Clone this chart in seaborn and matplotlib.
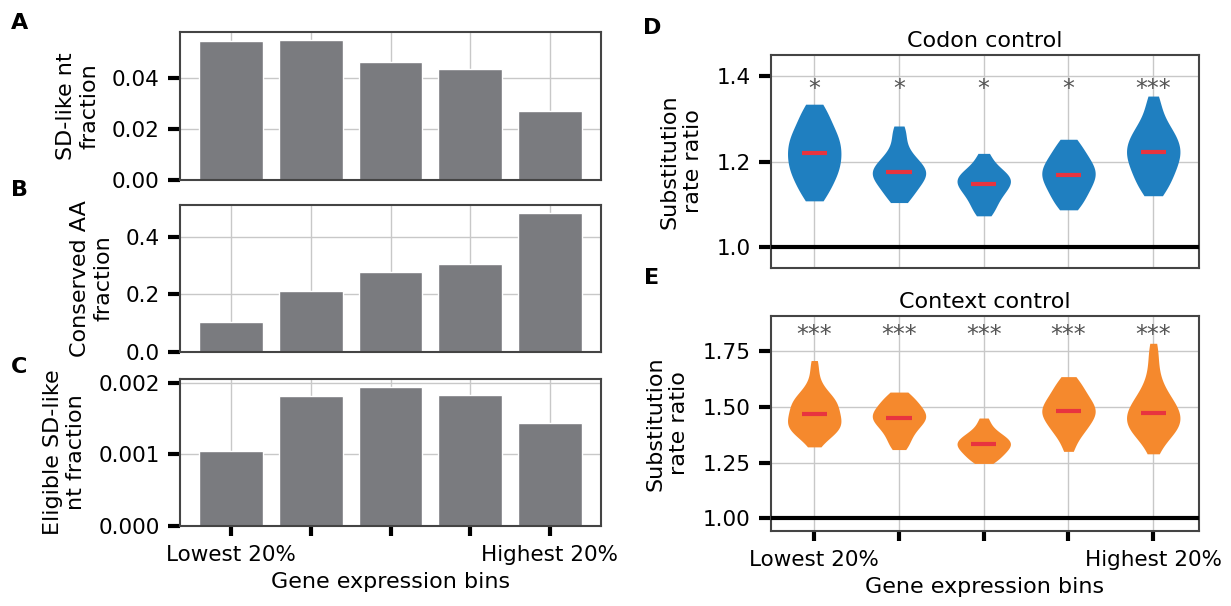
import numpy as np
import pandas as pd
import matplotlib
matplotlib.use("Agg")
import matplotlib.pyplot as plt
import seaborn as sns

# ===== DATA =====
BINS = ["Lowest 20%", "20-40%", "40-60%", "60-80%", "Highest 20%"]
TICK_LABELS = ["Lowest 20%", "", "", "", "Highest 20%"]

sd_like_frac = [0.0546, 0.0549, 0.0463, 0.0435, 0.0271]
conserved_aa_frac = [0.104, 0.212, 0.279, 0.306, 0.483]
eligible_sd_frac = [0.00105, 0.00181, 0.00194, 0.00182, 0.00144]

# substitution rate ratio samples per bin (codon control)
codon_b1 = [1.108, 1.12, 1.132, 1.142, 1.151, 1.159, 1.166, 1.173, 1.180, 1.186,
            1.192, 1.198, 1.204, 1.210, 1.216, 1.222, 1.228, 1.234, 1.240, 1.246,
            1.252, 1.258, 1.265, 1.272, 1.280, 1.289, 1.299, 1.310, 1.322, 1.334]
codon_b2 = [1.104, 1.114, 1.123, 1.131, 1.138, 1.144, 1.150, 1.155, 1.160, 1.164,
            1.168, 1.172, 1.176, 1.180, 1.184, 1.188, 1.193, 1.198, 1.204, 1.211,
            1.220, 1.232, 1.250, 1.267, 1.283]
codon_b3 = [1.073, 1.084, 1.094, 1.103, 1.111, 1.118, 1.124, 1.130, 1.135, 1.140,
            1.144, 1.148, 1.152, 1.156, 1.160, 1.164, 1.168, 1.172, 1.177, 1.183,
            1.191, 1.203, 1.219]
codon_b4 = [1.087, 1.098, 1.108, 1.117, 1.125, 1.132, 1.139, 1.145, 1.151, 1.157,
            1.162, 1.167, 1.172, 1.177, 1.182, 1.187, 1.193, 1.199, 1.205, 1.212,
            1.220, 1.229, 1.240, 1.252]
codon_b5 = [1.120, 1.132, 1.143, 1.153, 1.162, 1.170, 1.178, 1.185, 1.192, 1.199,
            1.205, 1.211, 1.217, 1.222, 1.228, 1.234, 1.240, 1.246, 1.252, 1.259,
            1.266, 1.274, 1.283, 1.294, 1.310, 1.330, 1.353]

# substitution rate ratio samples per bin (context control)
context_b1 = [1.320, 1.343, 1.362, 1.370, 1.378, 1.385, 1.392, 1.398, 1.404, 1.410,
              1.416, 1.422, 1.428, 1.434, 1.440, 1.446, 1.452, 1.459, 1.466, 1.473,
              1.480, 1.487, 1.494, 1.501, 1.508, 1.515, 1.522, 1.529, 1.536, 1.544,
              1.553, 1.564, 1.578, 1.596, 1.625, 1.665, 1.706]
context_b2 = [1.308, 1.325, 1.342, 1.358, 1.372, 1.384, 1.395, 1.405, 1.414, 1.422,
              1.429, 1.436, 1.442, 1.448, 1.454, 1.460, 1.466, 1.472, 1.479, 1.486,
              1.493, 1.501, 1.509, 1.518, 1.528, 1.539, 1.551, 1.565]
context_b3 = [1.246, 1.256, 1.266, 1.275, 1.283, 1.290, 1.297, 1.303, 1.309, 1.315,
              1.320, 1.325, 1.330, 1.335, 1.340, 1.345, 1.350, 1.355, 1.361, 1.367,
              1.374, 1.382, 1.392, 1.405, 1.424, 1.449]
context_b4 = [1.300, 1.332, 1.360, 1.375, 1.388, 1.400, 1.411, 1.421, 1.430, 1.439,
              1.447, 1.455, 1.462, 1.469, 1.476, 1.483, 1.490, 1.497, 1.504, 1.512,
              1.520, 1.529, 1.538, 1.548, 1.559, 1.571, 1.584, 1.598, 1.614, 1.634]
context_b5 = [1.289, 1.320, 1.345, 1.366, 1.376, 1.385, 1.394, 1.402, 1.410, 1.418,
              1.426, 1.434, 1.442, 1.450, 1.458, 1.466, 1.474, 1.482, 1.490, 1.499,
              1.508, 1.518, 1.529, 1.541, 1.555, 1.571, 1.590, 1.615, 1.648, 1.690,
              1.735, 1.783]

codon_stars = ["*", "*", "*", "*", "***"]
context_stars = ["***", "***", "***", "***", "***"]
# ================

BAR_COLOR = "#7a7b7f"
GRID_COLOR = "#c8c8c8"
EDGE_COLOR = "#444444"

sns.set_theme(style="whitegrid", rc={
    "axes.edgecolor": EDGE_COLOR,
    "axes.linewidth": 1.5,
    "grid.color": GRID_COLOR,
    "grid.linewidth": 1.0,
    "xtick.color": "black",
    "ytick.color": "black",
    "text.color": "black",
    "axes.labelcolor": "black",
})
plt.rcParams["font.family"] = ["DejaVu Sans"]

W, H = 1231, 606
fig = plt.figure(figsize=(W / 100, H / 100), dpi=100)


def px_axes(left, top, right, bottom):
    return fig.add_axes([left / W, 1 - bottom / H, (right - left) / W, (bottom - top) / H])


def style_ticks(ax, show_x):
    ax.tick_params(axis="y", which="major", left=True, length=8.5, width=3,
                   labelsize=15.5, pad=6)
    if show_x:
        ax.tick_params(axis="x", which="major", bottom=True, length=7, width=3,
                       labelsize=15.5, pad=7)
        ax.set_xticks(range(len(BINS)))
        ax.set_xticklabels(TICK_LABELS)
    else:
        ax.tick_params(axis="x", bottom=False, labelbottom=False)
    for s in ax.spines.values():
        s.set_color(EDGE_COLOR)
        s.set_linewidth(1.5)


def bar_panel(ax, values, ylim, yticks, yfmt, ylabel, show_x):
    df = pd.DataFrame({"bin": BINS, "value": values})
    sns.barplot(data=df, x="bin", y="value", order=BINS, color=BAR_COLOR,
                saturation=1, width=0.8, ax=ax, zorder=2)
    ax.set_xlim(-0.64, 4.64)
    ax.set_ylim(*ylim)
    ax.set_yticks(yticks)
    ax.set_yticklabels([yfmt.format(t) for t in yticks])
    ax.set_ylabel(ylabel, fontsize=16, labelpad=9)
    ax.set_xlabel("Gene expression bins" if show_x else "", fontsize=16, labelpad=5)
    ax.grid(True, axis="both", color=GRID_COLOR, linewidth=1.0)
    ax.set_axisbelow(True)
    style_ticks(ax, show_x)


def violin_panel(ax, samples, color, ylim, yticks, yfmt, title, stars, star_y, show_x):
    rows = []
    for b, vals in zip(BINS, samples):
        for v in vals:
            rows.append((b, v))
    df = pd.DataFrame(rows, columns=["bin", "ratio"])
    sns.violinplot(data=df, x="bin", y="ratio", order=BINS, color=color,
                   saturation=1, cut=0, inner=None, density_norm="width",
                   bw_adjust=0.8, width=0.63, linewidth=0, ax=ax)
    for i, vals in enumerate(samples):
        ax.hlines(np.median(vals), i - 0.15, i + 0.15, color="#e8343f",
                  linewidth=3, zorder=4)
        ax.text(i, star_y, stars[i], ha="center", va="center", fontsize=17,
                color="#555555")
    ax.axhline(1.0, color="black", linewidth=3, zorder=3)
    ax.set_xlim(-0.51, 4.54)
    ax.set_ylim(*ylim)
    ax.set_yticks(yticks)
    ax.set_yticklabels([yfmt.format(t) for t in yticks])
    ax.set_ylabel("Substitution\nrate ratio", fontsize=16, labelpad=10)
    ax.set_xlabel("Gene expression bins" if show_x else "", fontsize=16, labelpad=5)
    ax.set_title(title, fontsize=16, pad=6)
    ax.grid(True, axis="both", color=GRID_COLOR, linewidth=1.0)
    ax.set_axisbelow(True)
    style_ticks(ax, show_x)


ax_a = px_axes(180, 32, 601, 180)
bar_panel(ax_a, sd_like_frac, (0, 0.058), [0.0, 0.02, 0.04], "{:.2f}",
          "SD-like nt\nfraction", False)

ax_b = px_axes(180, 205, 601, 352)
bar_panel(ax_b, conserved_aa_frac, (0, 0.511), [0.0, 0.2, 0.4], "{:.1f}",
          "Conserved AA\nfraction", False)

ax_c = px_axes(180, 379, 601, 526)
bar_panel(ax_c, eligible_sd_frac, (0, 0.00205), [0.0, 0.001, 0.002], "{:.3f}",
          "Eligible SD-like\nnt fraction", True)

ax_d = px_axes(771, 55, 1199, 268)
violin_panel(ax_d, [codon_b1, codon_b2, codon_b3, codon_b4, codon_b5],
             "#1f7fc0", (0.951, 1.449), [1.0, 1.2, 1.4], "{:.1f}",
             "Codon control", codon_stars, 1.37, False)

ax_e = px_axes(771, 316, 1199, 531)
violin_panel(ax_e, [context_b1, context_b2, context_b3, context_b4, context_b5],
             "#f5892d", (0.944, 1.905), [1.0, 1.25, 1.5, 1.75], "{:.2f}",
             "Context control", context_stars, 1.82, True)

for letter, x, y in [("A", 20, 23), ("B", 20, 190), ("C", 19, 367),
                     ("D", 652, 28), ("E", 652, 278)]:
    fig.text(x / W, 1 - y / H, letter, fontsize=16, fontweight="bold",
             ha="center", va="center")

fig.savefig("out.png", dpi=100)
